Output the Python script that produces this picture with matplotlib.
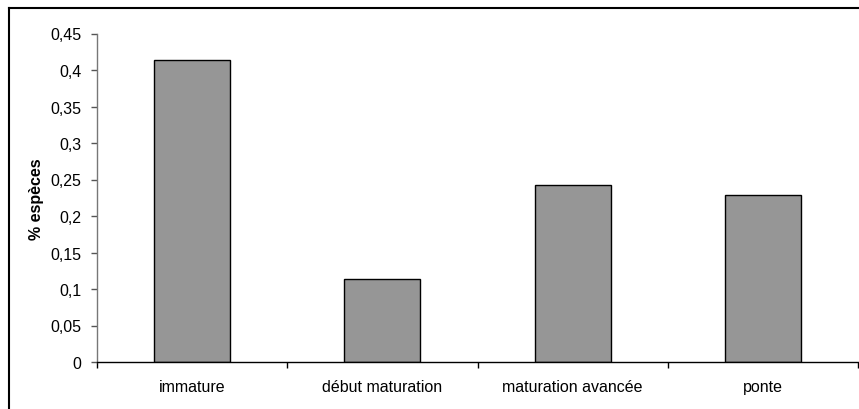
import matplotlib.pyplot as plt
from matplotlib.lines import Line2D
from matplotlib.ticker import FixedLocator, FuncFormatter

categories = ['immature', 'début maturation', 'maturation avancée', 'ponte']
values = [0.414, 0.114, 0.243, 0.229]
yticks = [0, 0.05, 0.1, 0.15, 0.2, 0.25, 0.3, 0.35, 0.4, 0.45]

plt.rcParams['font.family'] = ['Liberation Sans', 'DejaVu Sans']
fs = 11.5

W, H = 859, 410
fig = plt.figure(figsize=(W / 100, H / 100), dpi=100)
ax = fig.add_axes([97 / W, 1 - 363 / H, (858 - 97) / W, (363 - 34.5) / H])

x = list(range(len(categories)))
ax.bar(x, values, width=0.4, color='#969696', edgecolor='black', linewidth=1)

ax.set_xlim(-0.5, len(categories) - 0.5)
ax.set_ylim(0, 0.45)

# category labels centred, tick marks between categories
ax.set_xticks(x)
ax.set_xticklabels(categories, fontsize=fs)
ax.tick_params(axis='x', which='major', length=0, pad=12)
ax.xaxis.set_minor_locator(FixedLocator([i - 0.5 for i in range(len(categories) + 1)]))
ax.tick_params(axis='x', which='minor', length=4, width=1, direction='out', color='black')

ax.set_yticks(yticks)
ax.yaxis.set_major_formatter(FuncFormatter(lambda v, p: ('%g' % round(v, 2)).replace('.', ',')))
ax.tick_params(axis='y', length=4, width=1, direction='out', labelsize=fs, pad=7, color='#555555')

ax.spines['top'].set_visible(False)
ax.spines['right'].set_visible(False)
ax.spines['left'].set_color('#777777')
ax.spines['left'].set_linewidth(1)
ax.spines['bottom'].set_color('black')
ax.spines['bottom'].set_linewidth(1)

ax.set_ylabel('% espèces', fontsize=fs, fontweight='bold', labelpad=5)

# chart area frame
fig.add_artist(Line2D([9 / W, 9 / W], [1 - 9 / H, 0], transform=fig.transFigure, color='black', lw=1.5))
fig.add_artist(Line2D([9 / W, 1], [1 - 9 / H, 1 - 9 / H], transform=fig.transFigure, color='black', lw=1.5))

fig.savefig('out.png', dpi=100)
